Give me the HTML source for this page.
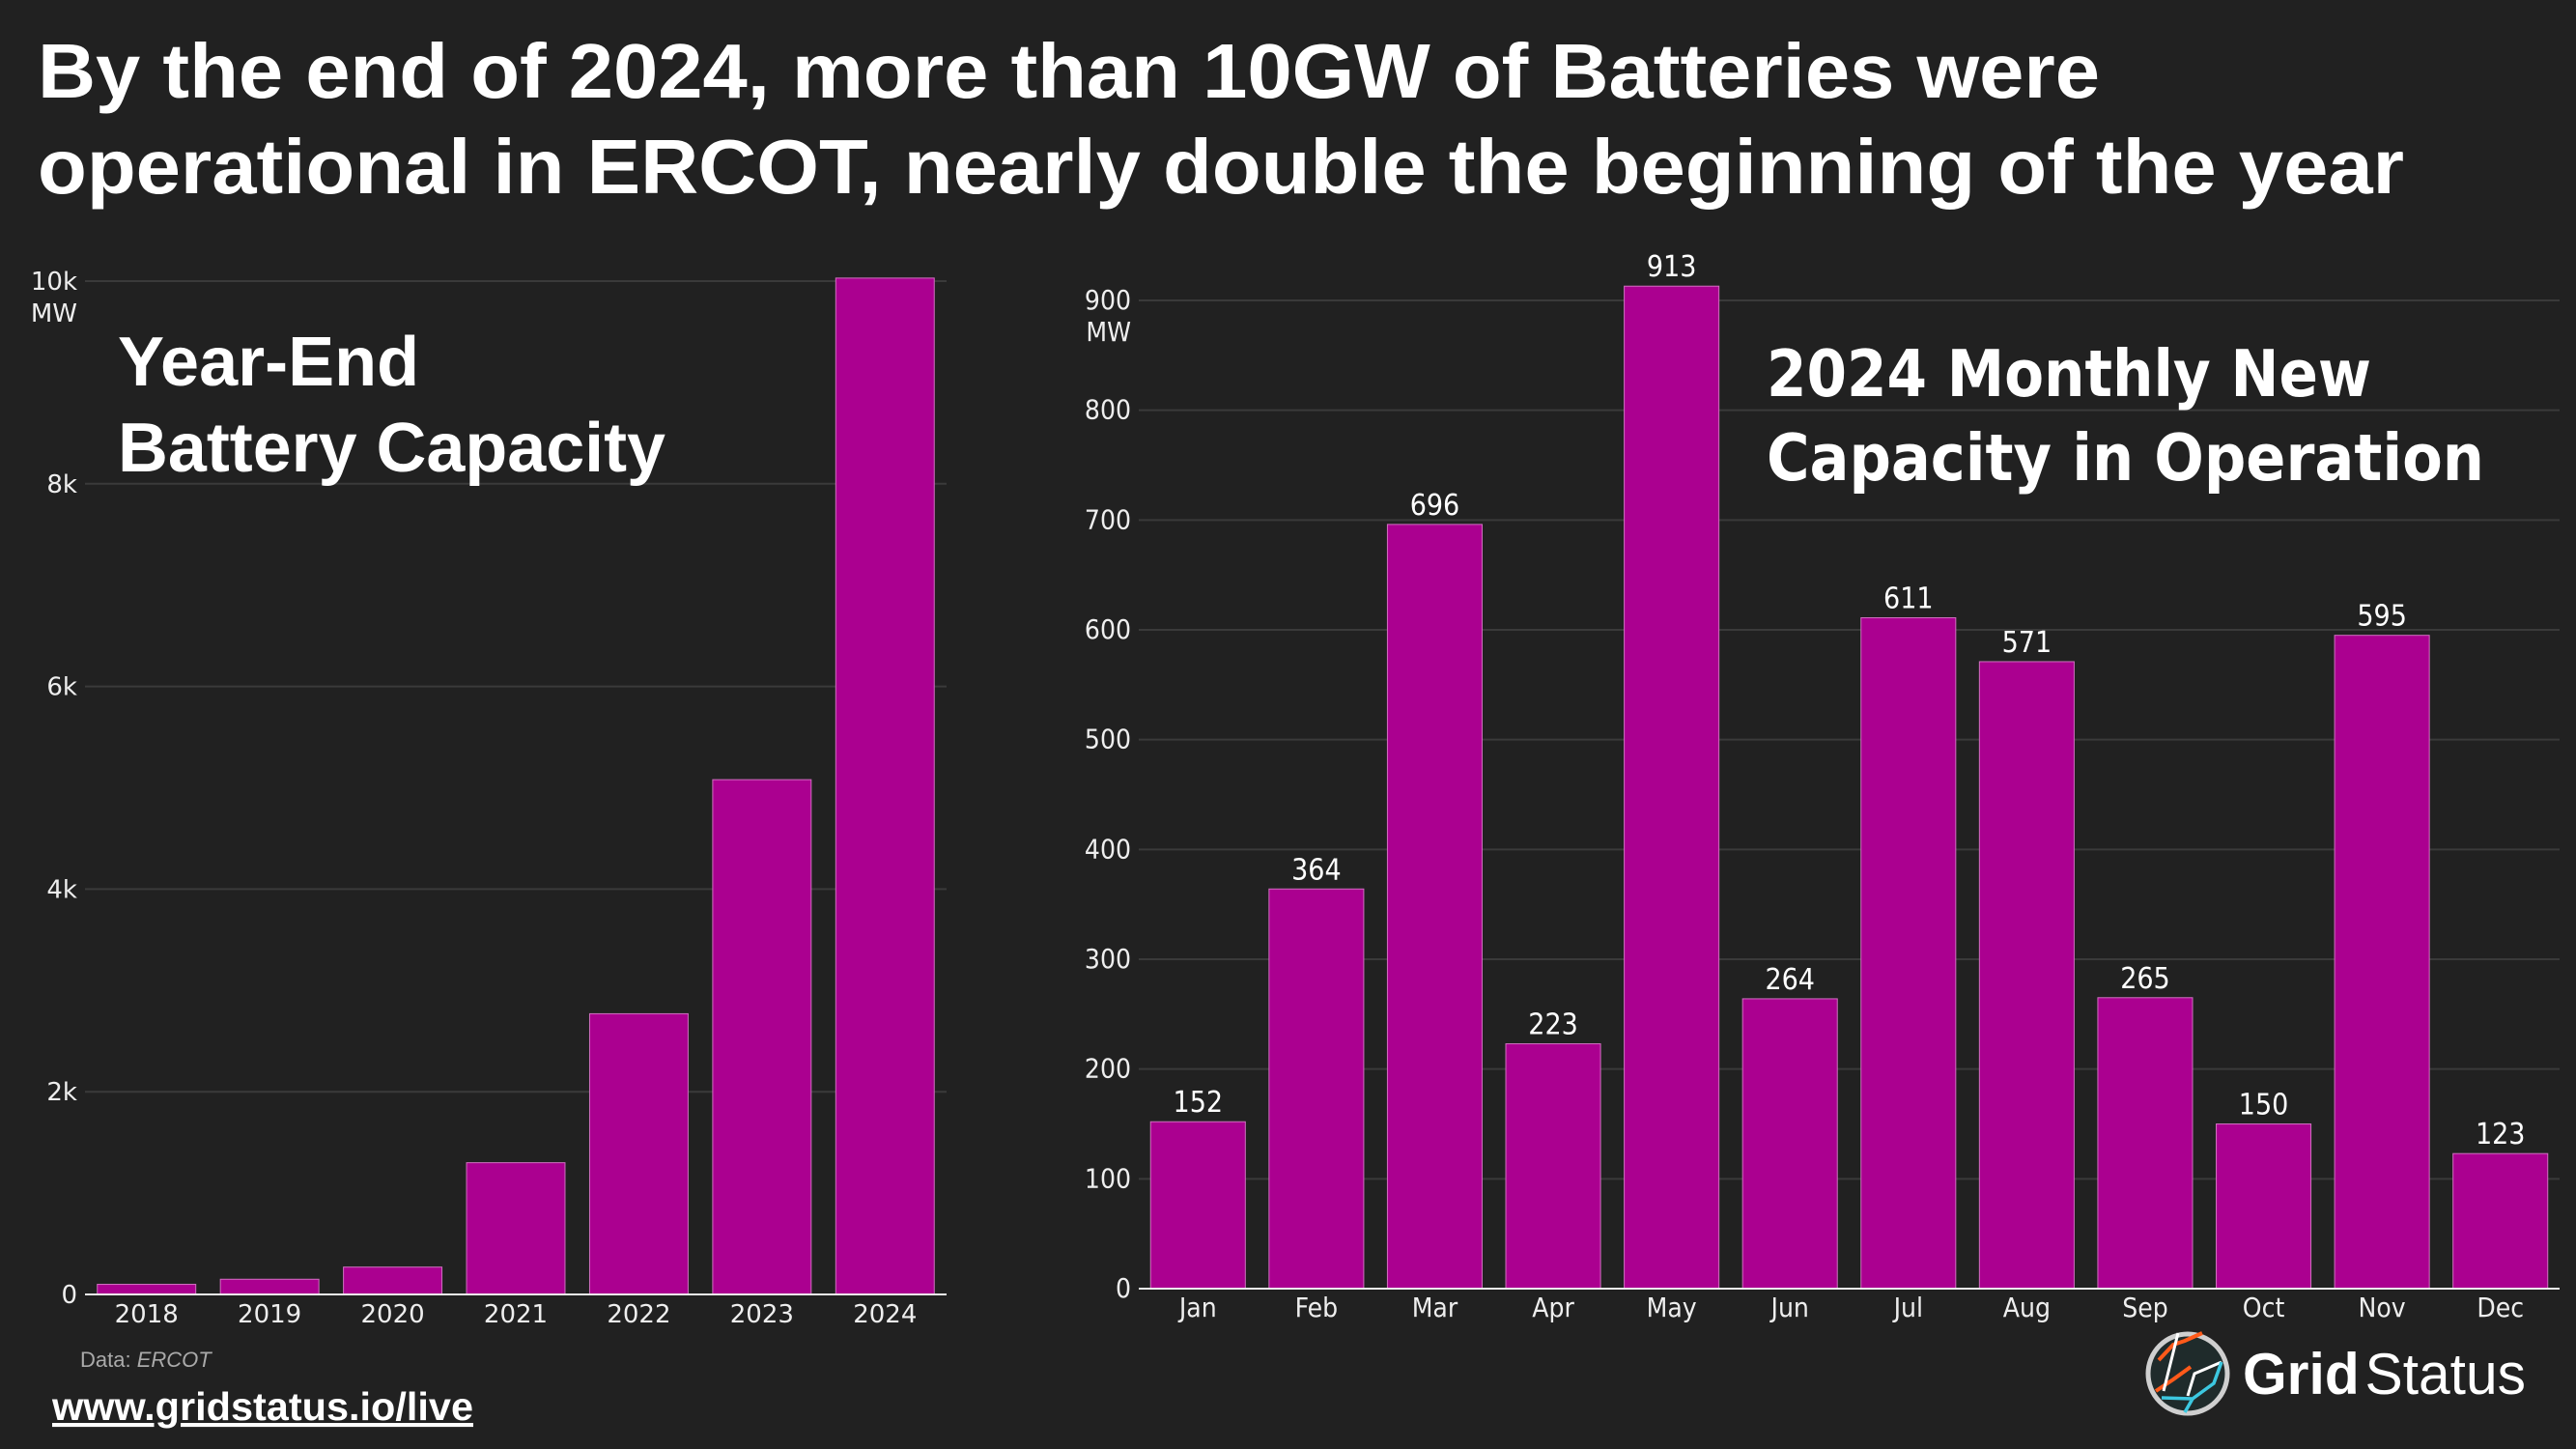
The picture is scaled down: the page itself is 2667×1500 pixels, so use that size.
<!DOCTYPE html>
<html><head><meta charset="utf-8"><style>
html,body{margin:0;padding:0;background:#212121;}
svg{display:block;}
</style></head><body>
<svg id="chart" xmlns="http://www.w3.org/2000/svg" width="2667" height="1500" viewBox="0 0 2667 1500">
<rect width="2667" height="1500" fill="#212121"/>
<text x="39" y="101" font-family="Liberation Sans, sans-serif" font-weight="bold" font-size="80" fill="#fff" textLength="2135" lengthAdjust="spacingAndGlyphs">By the end of 2024, more than 10GW of Batteries were</text>
<text x="39" y="200" font-family="Liberation Sans, sans-serif" font-weight="bold" font-size="80" fill="#fff" textLength="2450" lengthAdjust="spacingAndGlyphs">operational in ERCOT, nearly double the beginning of the year</text>
<g id="left"></g>
<g id="right"></g>
<text x="122" y="399" font-family="Liberation Sans, sans-serif" font-weight="bold" font-size="72" fill="#fff">Year-End</text>
<text x="122" y="488" font-family="Liberation Sans, sans-serif" font-weight="bold" font-size="72" fill="#fff" textLength="567" lengthAdjust="spacingAndGlyphs">Battery Capacity</text>
<text x="1829" y="410" font-family="DejaVu Sans Condensed, DejaVu Sans, sans-serif" font-weight="bold" font-size="67" fill="#fff" textLength="626" lengthAdjust="spacingAndGlyphs">2024 Monthly New</text>
<text x="1829" y="497" font-family="DejaVu Sans Condensed, DejaVu Sans, sans-serif" font-weight="bold" font-size="67" fill="#fff" textLength="743" lengthAdjust="spacingAndGlyphs">Capacity in Operation</text>
<text x="83" y="1415" font-family="Liberation Sans, sans-serif" font-size="22" fill="#aaa">Data: <tspan font-style="italic">ERCOT</tspan></text>
<text x="54" y="1470" font-family="Liberation Sans, sans-serif" font-weight="bold" font-size="41" fill="#fff" text-decoration="underline" textLength="436" lengthAdjust="spacingAndGlyphs">www.gridstatus.io/live</text>
<g>
<circle cx="2265" cy="1422" r="41" fill="#1f2b2b" stroke="#cfcfcf" stroke-width="5"/>
<path d="M2235 1408 L2250 1392 L2262 1388 L2280 1380" stroke="#ff5a1a" stroke-width="4" fill="none"/>
<path d="M2232 1440 L2250 1428 L2268 1415" stroke="#ff5a1a" stroke-width="4" fill="none"/>
<path d="M2240 1440 L2250 1400 L2255 1380 M2265 1445 L2272 1422 L2300 1410" stroke="#fff" stroke-width="3" fill="none"/>
<path d="M2238 1447 L2270 1448 L2292 1432 L2300 1410 M2270 1448 L2262 1462" stroke="#3cc8e0" stroke-width="3.5" fill="none"/>
<text x="2322" y="1443" font-family="Liberation Sans, sans-serif" font-size="60" fill="#fff" textLength="293" lengthAdjust="spacingAndGlyphs"><tspan font-weight="bold">Grid</tspan><tspan dx="6">Status</tspan></text>
</g>
</svg>
<script>
const years = ['2018','2019','2020','2021','2022','2023','2024'];
const yearValues = [100, 150, 270, 1300, 2770, 5080, 10030];
const leftTicks = [0, 2000, 4000, 6000, 8000, 10000];
const leftTickLabels = ['0','2k','4k','6k','8k','10k'];
const months = ['Jan','Feb','Mar','Apr','May','Jun','Jul','Aug','Sep','Oct','Nov','Dec'];
const monthValues = [152, 364, 696, 223, 913, 264, 611, 571, 265, 150, 595, 123];
const rightTicks = [0,100,200,300,400,500,600,700,800,900];

const NS = 'http://www.w3.org/2000/svg';
function mk(tag, attrs, parent, txt){
  const e = document.createElementNS(NS, tag);
  for (const k in attrs) e.setAttribute(k, attrs[k]);
  if (txt !== undefined) e.textContent = txt;
  parent.appendChild(e);
  return e;
}
function drawChart(g, cats, vals, ticks, tickLbls, x0, x1, yBase, yTop, vMax, opts){
  const band = (x1 - x0) / cats.length;
  const ys = v => yBase - (v / vMax) * (yBase - yTop);
  ticks.forEach((t, i) => {
    if (t > 0) {
      const gl = mk('line', {x1:x0, x2:x1, y1:ys(t), y2:ys(t), stroke:'#3a3a3a', 'stroke-width':2}, g);
      
      
    }
    const tl = mk('text', {x:x0-8, y:ys(t)+9, 'text-anchor':'end', 'font-family':opts.font, 'font-size':opts.fs, fill:'#eee'}, g, tickLbls[i]);
    
    
  });
  const mw = mk('text', {x:x0-8, y:ys(ticks[ticks.length-1])+42, 'text-anchor':'end', 'font-family':opts.font, 'font-size':opts.fs, fill:'#eee'}, g, 'MW');
  
  
  cats.forEach((c, i) => {
    const cx = x0 + band * (i + 0.5);
    const w = band * 0.8;
    const r = mk('rect', {x:cx - w/2, y:ys(vals[i]), width:w, height:yBase - ys(vals[i]), fill:'#ab0090', stroke:'#d070c0', 'stroke-width':1}, g);
    
    
    const xl = mk('text', {x:cx, y:yBase+29, 'text-anchor':'middle', 'font-family':opts.font, 'font-size':opts.fs, fill:'#eee'}, g, c);
    
    
    if (opts.labels) {
      const vl = mk('text', {x:cx, y:ys(vals[i]) - 10, 'text-anchor':'middle', 'font-family':opts.font, 'font-size':30, fill:'#fff'}, g, String(vals[i]));
      
      
    }
  });
  const ax = mk('line', {x1:x0, x2:x1, y1:yBase, y2:yBase, stroke:'#eee', 'stroke-width':2}, g);
  
  
}
drawChart(document.getElementById('left'), years, yearValues, leftTicks, leftTickLabels, 88, 980, 1340, 291, 10000, {font:'DejaVu Sans, sans-serif', labels:false, fs:26});
drawChart(document.getElementById('right'), months, monthValues, rightTicks, rightTicks.map(String), 1179, 2650, 1334, 311, 900, {font:'DejaVu Sans Condensed, DejaVu Sans, sans-serif', labels:true, fs:28});
</script>
</body></html>
